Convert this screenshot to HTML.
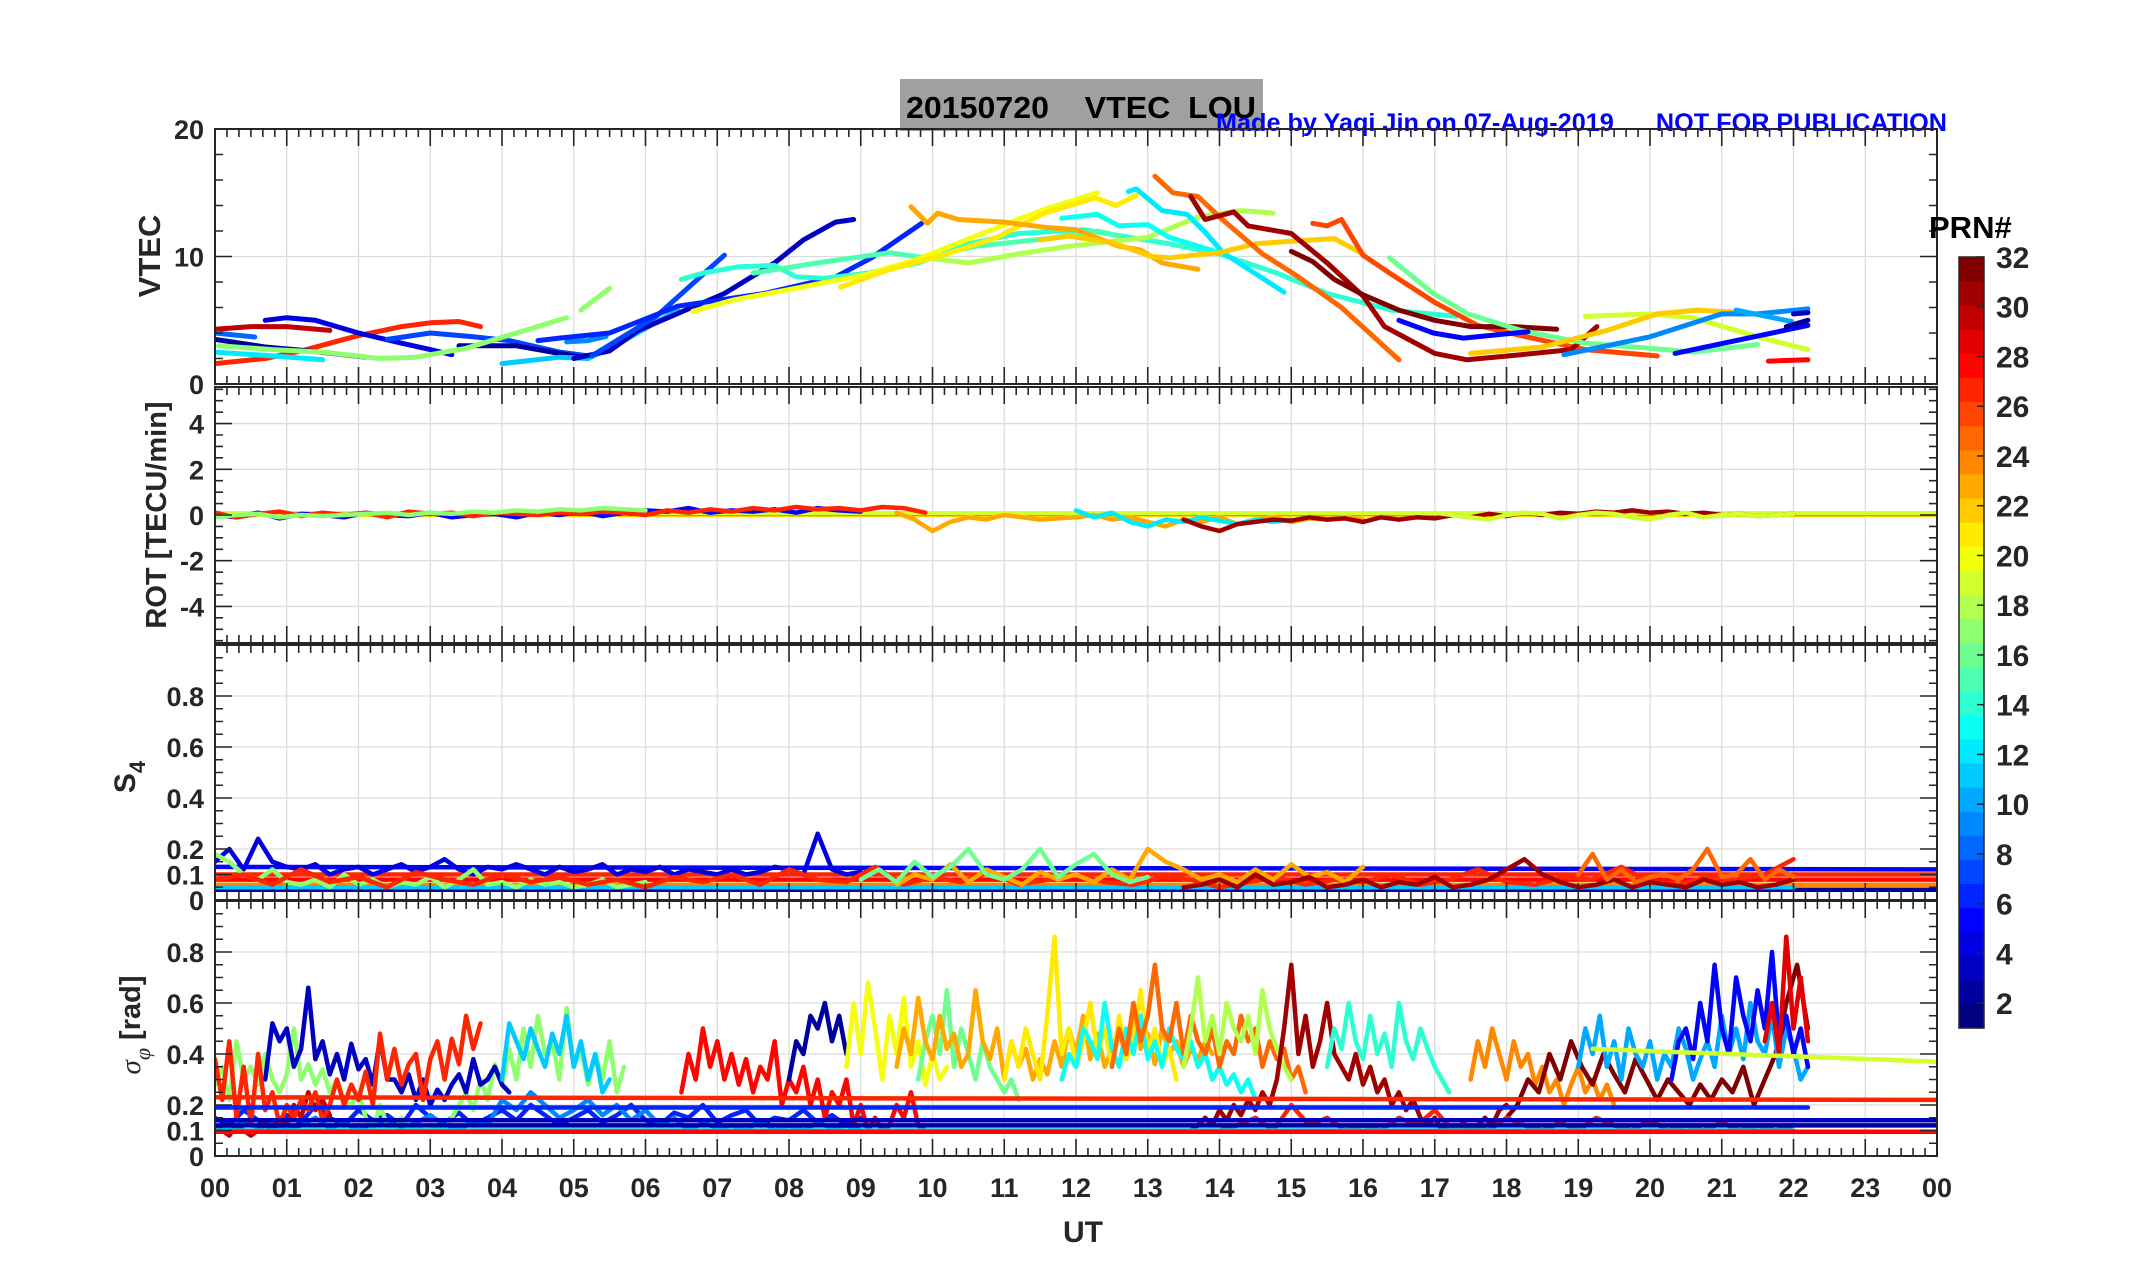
<!DOCTYPE html>
<html><head><meta charset="utf-8"><style>
html,body{margin:0;padding:0;background:#fff;}
svg{display:block;font-family:"Liberation Sans",Arial,sans-serif;}
.pre{white-space:pre;}
</style></head><body>
<svg id="chart" xmlns="http://www.w3.org/2000/svg" width="2153" height="1286" viewBox="0 0 2153 1286">
<rect x="0" y="0" width="2153" height="1286" fill="#fff"/>
<g id="title-box">
<rect x="900" y="79" width="363" height="52" fill="#a0a0a0"/>
<text class="pre" xml:space="preserve" x="906" y="118" font-size="31" font-weight="bold" fill="#000" textLength="350" lengthAdjust="spacingAndGlyphs">20150720    VTEC  LOU</text>
</g>
<text class="pre" xml:space="preserve" x="1216" y="131" font-size="25" font-weight="bold" fill="#0000ff" textLength="731" lengthAdjust="spacingAndGlyphs">Made by Yaqi Jin on 07-Aug-2019      NOT FOR PUBLICATION</text>
<g id="grid"></g>
<g id="series"></g>
<g id="axes"></g>
<g id="cbar"></g>
<text x="1929" y="238" font-size="31" font-weight="bold" fill="#000">PRN#</text>
<text transform="translate(160,256) rotate(-90)" text-anchor="middle" font-size="31" font-weight="bold" fill="#262626">VTEC</text>
<text transform="translate(166,515) rotate(-90)" text-anchor="middle" font-size="29" font-weight="bold" fill="#262626">ROT [TECU/min]</text>
<text transform="translate(135,777) rotate(-90)" text-anchor="middle" font-size="30" font-weight="bold" fill="#262626">S<tspan font-size="22" dy="10">4</tspan></text>
<text transform="translate(140,1025) rotate(-90)" text-anchor="middle" font-size="29" font-weight="bold" fill="#262626"><tspan font-family="Liberation Serif,serif" font-style="italic" font-weight="normal">σ</tspan><tspan font-family="Liberation Serif,serif" font-style="italic" font-weight="normal" font-size="22" dy="10">φ</tspan><tspan dy="-10"> [rad]</tspan></text>
<text x="1083" y="1242" text-anchor="middle" font-size="30" font-weight="bold" fill="#262626">UT</text>
</svg>
<script>
// ---------- data ----------
const hourTicks = ["00","01","02","03","04","05","06","07","08","09","10","11","12","13","14","15","16","17","18","19","20","21","22","23","00"];
const vtecTicks = [0,10,20];
const rotTicks = [-4,-2,0,2,4];
const s4Ticks = [0,0.1,0.2,0.4,0.6,0.8];
const phTicks = [0,0.1,0.2,0.4,0.6,0.8];
const cbarTicks = [2,4,6,8,10,12,14,16,18,20,22,24,26,28,30,32];

const vtecPrn = [30,27,4,8,7,2,2,17,17,12,11,9,3,7,6,14,15,18,13,12,20,21,23,22,25,26,31,32,16,19,22,9,10,5,5,3,2,28];
const vtecPts = [
 [[0,4.3],[0.5,4.5],[1.0,4.5],[1.6,4.2]],
 [[0,1.6],[0.7,2.0],[1.2,2.6],[2.0,3.8],[2.6,4.5],[3.0,4.8],[3.4,4.9],[3.7,4.5]],
 [[0.7,5.0],[1.0,5.2],[1.4,5.0],[2.0,4.0],[2.6,3.2],[3.0,2.7],[3.3,2.3]],
 [[0,4.0],[0.7,3.6]],
 [[2.4,3.5],[3.0,4.0],[3.6,3.7],[4.1,3.4],[4.8,2.5],[5.2,2.2]],
 [[0,3.5],[0.7,2.9],[1.3,2.6],[2.1,2.1]],
 [[3.4,3.0],[4.2,3.0],[4.8,2.4],[5.2,2.0]],
 [[0.05,3.0],[0.8,2.7],[1.5,2.5],[2.3,2.0],[2.8,2.1],[3.5,2.8],[4.2,4.0],[4.9,5.2]],
 [[5.1,5.8],[5.5,7.5]],
 [[0,2.5],[0.8,2.2],[1.5,1.9]],
 [[4.0,1.6],[4.8,2.1],[5.2,2.0],[5.7,3.4],[6.45,5.8]],
 [[4.9,3.3],[5.2,3.4],[5.5,3.8]],
 [[5.0,2.0],[5.5,2.6],[5.9,4.2],[7.1,7.1],[7.8,9.5],[8.2,11.3],[8.65,12.7],[8.9,12.9]],
 [[5.25,2.2],[6.15,5.3],[7.1,10.1]],
 [[4.5,3.4],[4.8,3.6],[5.5,4.0],[6.45,6.1],[7.65,7.1],[8.65,8.4],[9.15,9.9],[9.85,12.6]],
 [[6.5,8.2],[6.8,8.7],[7.3,9.2],[7.8,9.3],[8.1,8.4],[8.5,8.3],[9.1,8.7],[9.8,9.5],[10.5,11.0],[11.2,11.8],[12.1,12.1],[13.3,11.0],[14.0,10.2],[14.8,8.7],[15.5,7.1],[16.4,5.8],[17.3,5.3]],
 [[7.5,8.7],[8.4,9.5],[9.4,10.3],[9.9,9.9],[10.6,10.8],[11.6,11.4],[12.3,12.0],[12.6,11.6]],
 [[9.9,9.9],[10.5,9.5],[11.2,10.2],[11.9,10.8],[13.0,11.5],[13.7,13.1],[14.3,13.6],[14.75,13.4]],
 [[11.8,13.0],[12.3,13.3],[12.6,12.4],[13.0,12.5],[13.3,11.5],[14.0,10.3]],
 [[12.73,15.1],[12.84,15.3],[13.2,13.6],[13.55,13.3],[13.8,11.9],[14.05,10.3],[14.9,7.2]],
 [[6.66,5.7],[7.23,6.6],[8.0,7.4],[9.08,8.6],[9.8,9.8],[10.6,11.6],[11.56,13.7],[12.3,15.0]],
 [[8.72,7.6],[9.36,8.9],[10.2,10.2],[10.9,11.5],[11.56,13.4],[12.27,14.6],[12.56,14.0],[12.84,14.8]],
 [[9.7,13.9],[9.93,12.6],[10.07,13.4],[10.36,12.9],[11.0,12.7],[11.56,12.3],[12.0,12.1],[12.6,10.8],[12.9,10.5],[13.2,9.5],[13.7,9.0]],
 [[11.5,11.3],[11.9,11.6],[12.5,11.1],[13.05,10.0],[13.3,9.9],[14.0,10.3],[14.5,11.0],[15.0,11.2],[15.6,11.4],[16.0,10.2]],
 [[13.1,16.3],[13.35,15.0],[13.7,14.7],[14.0,13.1],[14.6,10.2],[15.1,8.4],[15.7,6.0],[16.5,1.9]],
 [[15.3,12.6],[15.5,12.4],[15.7,12.9],[16.0,10.1],[16.4,8.6],[17.0,6.4],[17.6,4.6],[18.2,3.8],[19.1,2.7],[20.1,2.2]],
 [[13.6,14.7],[13.8,12.9],[14.2,13.5],[14.4,12.4],[15.0,11.8],[15.5,9.5],[16.0,6.9],[16.3,4.5],[17.0,2.4],[17.45,1.9],[18.2,2.3],[18.9,2.7],[19.26,4.5]],
 [[15.0,10.4],[15.3,9.6],[15.6,8.2],[16.0,7.0],[16.5,5.8],[17.0,5.0],[17.5,4.5],[18.1,4.5],[18.7,4.3]],
 [[16.37,9.9],[16.98,7.1],[17.46,5.5],[18.2,4.2],[19.1,3.2],[20.0,2.8],[20.6,2.5],[21.5,3.1]],
 [[19.1,5.3],[20.0,5.5],[20.6,5.2],[21.5,3.7],[22.2,2.7]],
 [[17.5,2.4],[18.5,2.9],[19.4,4.2],[20.1,5.5],[20.65,5.8],[21.3,5.6]],
 [[18.8,2.3],[20.0,3.7],[21.0,5.5],[21.5,5.5],[22.2,5.9]],
 [[21.2,5.8],[21.97,4.9]],
 [[16.5,5.0],[16.98,4.0],[17.4,3.6],[18.3,4.1]],
 [[20.35,2.4],[21.2,3.4],[22.2,4.6]],
 [[22.0,5.5],[22.2,5.6]],
 [[21.9,4.5],[22.2,5.0]],
 [[21.65,1.8],[22.2,1.9]]
];
const vtecDash = [false,false,false,true,false,false,false,false,true,false,false,true,false,false,false,false,false,false,false,false,false,false,false,false,false,false,false,false,false,false,false,false,false,false,false,false,false,false];

const rotPrn = [5,27,17,23,12,31,19];
const rotStart = [0,0,0,9.5,12,13.5,17];
const rotStep = [0.3,0.3,0.3,0.25,0.25,0.25,0.25];
const rotVals = [
 [0,-0.1,0.1,-0.15,0.05,0,-0.1,0.1,0,-0.05,0.1,-0.1,0,0.05,-0.1,0.1,0,0.15,-0.05,0.1,0.2,0.15,0.3,0.1,0.2,0.15,0.25,0.1,0.3,0.2,0.15],
 [0.1,-0.1,0.05,0.15,-0.05,0.1,0,0.1,-0.1,0.15,0.05,0.1,-0.05,0.1,0.05,0,0.1,0.05,0.15,0.1,0,0.2,0.1,0.25,0.15,0.3,0.2,0.35,0.25,0.3,0.2,0.35,0.3,0.1],
 [-0.1,0,0.05,-0.1,0,-0.05,0,0.05,0.1,0,0.1,0.05,0.15,0.1,0.2,0.15,0.25,0.2,0.3,0.25,0.2],
 [0.1,-0.2,-0.7,-0.3,-0.1,-0.2,0,-0.1,-0.2,-0.15,-0.1,0,-0.2,-0.1,-0.3,-0.5,-0.2,-0.3,-0.1,-0.4,-0.2,-0.1,-0.3,-0.15,-0.2,-0.1,-0.2],
 [0.2,-0.1,0.1,-0.3,-0.5,-0.2,-0.3,-0.1,-0.25,-0.4,-0.2,-0.3,-0.2],
 [-0.2,-0.5,-0.7,-0.4,-0.3,-0.2,-0.25,-0.1,-0.2,-0.15,-0.3,-0.1,-0.2,-0.1,-0.15,0,-0.1,0.05,-0.05,0.1,0,0.1,0.05,0.15,0.1,0.2,0.1,0.15,0.05,0.1,0,0.05,-0.05,0,0.05],
 [0.1,0,-0.1,-0.2,0,0.1,0.05,-0.15,0,0.1,0.05,-0.1,-0.2,0,0.1,-0.1,0,0.05,-0.05,0,0.05]
];
const rotFlat = [[21,0,24,0,0],[27,0,24,0.05,0.05],[19,0,24,0.08,0.08]];

const s4Prn = [4,17,27,23,16,31,25];
const s4Start = [0,0,0,9.5,9,13.5,19];
const s4Step = [0.2,0.2,0.4,0.25,0.25,0.25,0.2];
const s4Vals = [
 [0.15,0.2,0.12,0.24,0.15,0.13,0.12,0.14,0.1,0.12,0.13,0.1,0.12,0.14,0.11,0.13,0.16,0.12,0.1,0.13,0.12,0.14,0.12,0.1,0.13,0.11,0.12,0.14,0.1,0.12,0.11,0.13,0.1,0.12,0.11,0.1,0.12,0.1,0.11,0.13,0.12,0.1,0.26,0.12,0.1,0.11],
 [0.18,0.15,0.1,0.08,0.12,0.07,0.06,0.08,0.05,0.1,0.06,0.08,0.05,0.07,0.06,0.09,0.05,0.08,0.12,0.06,0.07,0.05,0.08,0.06,0.07,0.05,0.06,0.08,0.05,0.06,0.07],
 [0.08,0.1,0.06,0.12,0.07,0.09,0.05,0.11,0.08,0.06,0.1,0.07,0.09,0.06,0.08,0.05,0.09,0.07,0.1,0.06,0.12,0.08,0.07,0.13,0.06,0.09,0.07,0.11,0.06,0.08,0.1,0.07,0.06,0.09,0.08,0.05,0.07,0.09,0.06,0.08,0.07,0.1,0.06,0.08,0.12,0.07,0.06,0.09,0.08,0.13,0.07,0.06,0.09,0.08,0.1,0.16],
 [0.06,0.1,0.08,0.14,0.07,0.12,0.09,0.06,0.11,0.08,0.1,0.07,0.12,0.08,0.2,0.15,0.12,0.08,0.1,0.07,0.12,0.08,0.14,0.09,0.11,0.07,0.13],
 [0.08,0.12,0.07,0.15,0.09,0.13,0.2,0.1,0.08,0.12,0.2,0.09,0.14,0.18,0.1,0.07,0.09],
 [0.05,0.06,0.08,0.05,0.1,0.06,0.07,0.09,0.05,0.06,0.08,0.05,0.07,0.06,0.09,0.05,0.06,0.08,0.12,0.16,0.1,0.07,0.05,0.06,0.08,0.05,0.07,0.06,0.05,0.08,0.06,0.07,0.05,0.06,0.08],
 [0.1,0.18,0.08,0.12,0.07,0.09,0.1,0.08,0.12,0.2,0.09,0.1,0.16,0.08,0.12,0.09]
];
const s4Flat = [[5,0,24,0.13,0.12],[2,0,24,0.04,0.04],[27,0,24,0.1,0.1],[28,0,24,0.08,0.08],[24,0,24,0.06,0.06],[11,0,22,0.05,0.05]];

const phPrn = [6,9,30,17,3,27,11,28,2,20,16,23,21,13,25,18,31,14,24,32,10,5,29,27];
const phStart = [0,0,0,0,0.7,0,4.0,6.5,8.0,8.8,9.8,9.5,11,11.8,12.5,13.5,13.6,15.5,17.5,18,19,20.3,21.6,14];
const phStep = [0.2,0.2,0.1,0.1,0.1,0.1,0.1,0.1,0.1,0.1,0.1,0.1,0.1,0.1,0.1,0.1,0.1,0.1,0.1,0.15,0.1,0.1,0.1,0.25];
const phVals = [
 [0.15,0.12,0.18,0.14,0.1,0.16,0.13,0.2,0.15,0.12,0.18,0.14,0.16,0.12,0.2,0.15,0.13,0.17,0.12,0.15,0.18,0.14,0.2,0.16,0.12,0.15,0.18,0.13,0.16,0.2,0.14,0.12,0.17,0.15,0.2,0.13,0.16,0.18,0.12,0.15,0.14,0.18,0.13,0.16,0.12,0.15],
 [0.12,0.1,0.14,0.11,0.13,0.1,0.12,0.15,0.11,0.13,0.1,0.12,0.14,0.1,0.13,0.16,0.12,0.1,0.14,0.12,0.22,0.18,0.25,0.2,0.15,0.18,0.22,0.16,0.2,0.14,0.18,0.12,0.15,0.1,0.13,0.11,0.12,0.1,0.14,0.1,0.12,0.1,0.13,0.11,0.12,0.1],
 [0.12,0.1,0.08,0.12,0.1,0.08,0.1,0.13,0.1,0.15,0.12,0.2,0.15,0.25,0.18,0.22,0.16],
 [0.28,0.35,0.22,0.45,0.3,0.35,0.28,0.4,0.3,0.25,0.32,0.5,0.3,0.36,0.28,0.34,0.25,0.3,0.22,0.2,0.25,0.15,0.1,0.2,0.12,0.1,0.15,0.1,0.12,0.1,0.1,0.12,0.1,0.15,0.2,0.25,0.18,0.3,0.22,0.36,0.28,0.42,0.3,0.5,0.35,0.55,0.4,0.45,0.3,0.58,0.35,0.42,0.28,0.4,0.3,0.45,0.25,0.35],
 [0.3,0.52,0.45,0.5,0.35,0.42,0.66,0.38,0.45,0.32,0.4,0.3,0.44,0.34,0.38,0.28,0.46,0.3,0.3,0.25,0.32,0.22,0.3,0.2,0.26,0.22,0.28,0.32,0.25,0.38,0.28,0.3,0.35,0.28,0.25],
 [0.38,0.22,0.45,0.15,0.35,0.12,0.4,0.18,0.25,0.12,0.2,0.15,0.22,0.18,0.25,0.14,0.2,0.3,0.2,0.28,0.22,0.33,0.2,0.48,0.3,0.42,0.28,0.36,0.4,0.22,0.38,0.45,0.3,0.46,0.36,0.55,0.42,0.52],
 [0.3,0.52,0.45,0.38,0.5,0.42,0.35,0.48,0.4,0.55,0.35,0.45,0.3,0.4,0.25,0.3],
 [0.25,0.4,0.3,0.5,0.35,0.45,0.3,0.4,0.28,0.38,0.25,0.35,0.3,0.45,0.2,0.3,0.25,0.35,0.2,0.3,0.15,0.25,0.2,0.3,0.12,0.2,0.1,0.15,0.1,0.12,0.2,0.15,0.25,0.12,0.1],
 [0.3,0.45,0.4,0.55,0.5,0.6,0.45,0.55,0.4],
 [0.35,0.6,0.4,0.68,0.5,0.3,0.55,0.4,0.62,0.35,0.45,0.28,0.4,0.3,0.35],
 [0.3,0.45,0.55,0.4,0.65,0.35,0.5,0.4,0.3,0.45,0.35,0.3,0.25,0.3,0.22],
 [0.35,0.5,0.4,0.62,0.45,0.38,0.55,0.42,0.48,0.35,0.4,0.65,0.45,0.38,0.5,0.3,0.45,0.35,0.42,0.3,0.38,0.32,0.45,0.35,0.5,0.4,0.55,0.38,0.48,0.35,0.42,0.5,0.38,0.58,0.42,0.48,0.36,0.5,0.4,0.45,0.35,0.42,0.38,0.45,0.4],
 [0.3,0.45,0.35,0.5,0.4,0.3,0.55,0.86,0.4,0.5,0.35,0.45,0.6,0.4,0.5,0.35,0.55,0.38,0.45,0.65,0.4,0.5,0.35,0.42,0.3],
 [0.3,0.4,0.35,0.5,0.45,0.38,0.6,0.42,0.35,0.5,0.4,0.55,0.38,0.45,0.35,0.5,0.42,0.38,0.45,0.35,0.4,0.3,0.35,0.28,0.32,0.25,0.3,0.22],
 [0.35,0.5,0.4,0.6,0.45,0.55,0.75,0.5,0.45,0.6,0.4,0.55,0.45,0.4,0.5,0.35,0.45,0.4,0.55,0.45,0.5,0.35,0.45,0.38,0.42,0.3,0.35,0.25],
 [0.35,0.5,0.7,0.45,0.55,0.4,0.6,0.5,0.45,0.55,0.4,0.65,0.5,0.42,0.35,0.3],
 [0.1,0.12,0.15,0.12,0.18,0.14,0.2,0.16,0.22,0.18,0.25,0.2,0.3,0.5,0.75,0.4,0.55,0.35,0.45,0.6,0.4,0.35,0.3,0.4,0.28,0.35,0.25,0.3,0.2,0.25,0.18,0.22,0.15,0.12,0.15,0.1,0.12,0.1,0.13,0.1,0.12,0.15,0.12,0.18,0.2],
 [0.35,0.5,0.42,0.6,0.45,0.38,0.55,0.4,0.48,0.35,0.6,0.45,0.38,0.5,0.42,0.35,0.3,0.25],
 [0.3,0.45,0.35,0.5,0.4,0.3,0.45,0.35,0.4,0.28,0.35,0.25,0.3,0.2,0.28,0.35,0.25,0.3,0.22,0.28,0.2],
 [0.15,0.2,0.3,0.25,0.4,0.3,0.45,0.35,0.28,0.4,0.32,0.25,0.38,0.3,0.22,0.3,0.25,0.2,0.28,0.22,0.3,0.25,0.35,0.2,0.3,0.4,0.6,0.75,0.5],
 [0.35,0.5,0.4,0.55,0.35,0.45,0.3,0.5,0.4,0.35,0.45,0.3,0.4,0.35,0.5,0.42,0.3,0.38,0.45,0.35,0.55,0.4,0.5,0.38,0.6,0.45,0.4,0.55,0.35,0.5,0.42,0.3,0.35],
 [0.3,0.45,0.5,0.38,0.6,0.45,0.75,0.5,0.4,0.7,0.55,0.45,0.65,0.5,0.8,0.45,0.55,0.4,0.5,0.35],
 [0.45,0.6,0.4,0.86,0.5,0.7,0.45],
 [0.1,0.12,0.15,0.1,0.2,0.12,0.15,0.1,0.12,0.1,0.15,0.12,0.18,0.1,0.12,0.1,0.15,0.12,0.1,0.13,0.1,0.15,0.12,0.1,0.14,0.1,0.12,0.1,0.13,0.1,0.12,0.1,0.12]
];
const phFlat = [[6,0,22.2,0.19,0.19],[2,0,24,0.12,0.12],[3,0,24,0.14,0.14],[11,0,22,0.1,0.1],[28,0,24,0.095,0.095],[27,0,24,0.23,0.22],[19,19.2,24,0.42,0.37]];

// ---------- layout ----------
const NS = "http://www.w3.org/2000/svg";
const L = 215, R = 1937;
const panels = [
 {name:"vtec", top:129, bot:384, min:0, max:20, ticks:vtecTicks, minor:2, grid:[10]},
 {name:"rot", top:387, bot:643, min:-5.6, max:5.6, ticks:rotTicks, minor:0.5, grid:rotTicks},
 {name:"s4", top:645, bot:900, min:0, max:1, ticks:s4Ticks, minor:0.05, grid:[0.1,0.2,0.4,0.6,0.8]},
 {name:"phase", top:901, bot:1156, min:0, max:1, ticks:phTicks, minor:0.05, grid:[0.1,0.2,0.4,0.6,0.8]}
];
function xs(h){ return L + h*(R-L)/24; }
function ys(p,v){ return p.bot - (v-p.min)/(p.max-p.min)*(p.bot-p.top); }
function jet(prn){
  const t=(prn-1)/31;
  const c=x=>Math.round(255*Math.max(0,Math.min(1,x)));
  return "rgb("+c(1.5-Math.abs(4*t-3))+","+c(1.5-Math.abs(4*t-2))+","+c(1.5-Math.abs(4*t-1))+")";
}
function mk(tag, attrs, parent){
  const e=document.createElementNS(NS,tag);
  for(const k in attrs) e.setAttribute(k,attrs[k]);
  parent.appendChild(e); return e;
}
const gGrid=document.getElementById("grid"), gSer=document.getElementById("series"), gAx=document.getElementById("axes"), gCb=document.getElementById("cbar");
const defs=mk("defs",{},document.getElementById("chart"));
panels.forEach((p,i)=>{
  const cp=mk("clipPath",{id:"clip"+i},defs);
  mk("rect",{x:L,y:p.top,width:R-L,height:p.bot-p.top},cp);
  for(let h=1;h<24;h++){
    const gl=mk("line",{x1:xs(h),x2:xs(h),y1:p.top,y2:p.bot,stroke:"#dcdcdc","stroke-width":1.3},gGrid);
    
    
  }
  p.grid.forEach(v=>{
    const gl=mk("line",{x1:L,x2:R,y1:ys(p,v),y2:ys(p,v),stroke:"#dcdcdc","stroke-width":1.3},gGrid);
    
    
  });
  const box=mk("rect",{x:L,y:p.top,width:R-L,height:p.bot-p.top,fill:"none",stroke:"#262626","stroke-width":2},gAx);
  
  
  let d="";
  for(let m=0;m<=144;m++){
    const x=xs(m/6), len=(m%6===0)?17:8;
    d+="M"+x+" "+p.top+"v"+len+"M"+x+" "+p.bot+"v"+(-len);
  }
  for(let v=p.min; v<=p.max+1e-9; v+=p.minor){
    const vv=Math.round(v/p.minor)*p.minor;
    if(vv<p.min-1e-9||vv>p.max+1e-9) continue;
    const y=ys(p,vv), isMaj=p.ticks.some(t=>Math.abs(t-vv)<1e-6), len=isMaj?17:8;
    d+="M"+L+" "+y+"h"+len+"M"+R+" "+y+"h"+(-len);
  }
  const tk=mk("path",{d:d,stroke:"#262626","stroke-width":1.6,fill:"none"},gAx);
  
  
  p.ticks.forEach(v=>{
    const t=mk("text",{x:204,y:ys(p,v)+10,"text-anchor":"end","font-size":27,"font-weight":"bold",fill:"#262626"},gAx);
    t.textContent=String(v);
    
    
  });
  p.g=mk("g",{"clip-path":"url(#clip"+i+")"},gSer);
  
  
});
hourTicks.forEach((lab,i)=>{
  const t=mk("text",{x:xs(i),y:1197,"text-anchor":"middle","font-size":27,"font-weight":"bold",fill:"#262626"},gAx);
  t.textContent=lab;
  
  
});
function poly(p,pts,prn,w,dash,name){
  const d=pts.map((q,k)=>(k?"L":"M")+xs(q[0]).toFixed(1)+" "+ys(p,q[1]).toFixed(1)).join("");
  const a={d:d,stroke:jet(prn),"stroke-width":w,fill:"none","stroke-linejoin":"round","stroke-linecap":"round"};
  if(dash) a["stroke-dasharray"]="40 14";
  const e=mk("path",a,p.g);
  
  
}
function fromStep(start,step,vals){ return vals.map((v,k)=>[start+k*step,v]); }
vtecPts.forEach((pts,i)=>poly(panels[0],pts,vtecPrn[i],5,vtecDash[i],"vtec-line-prn"+vtecPrn[i]));
rotFlat.forEach(f=>poly(panels[1],[[f[1],f[3]],[f[2],f[4]]],f[0],4.5,false,"rot-flat-prn"+f[0]));
rotVals.forEach((v,i)=>poly(panels[1],fromStep(rotStart[i],rotStep[i],v),rotPrn[i],4.5,false,"rot-line-prn"+rotPrn[i]));
s4Flat.forEach(f=>poly(panels[2],[[f[1],f[3]],[f[2],f[4]]],f[0],4.5,false,"s4-flat-prn"+f[0]));
s4Vals.forEach((v,i)=>poly(panels[2],fromStep(s4Start[i],s4Step[i],v),s4Prn[i],4.5,false,"s4-line-prn"+s4Prn[i]));
phVals.forEach((v,i)=>poly(panels[3],fromStep(phStart[i],phStep[i],v),phPrn[i],4.5,false,"phase-line-prn"+phPrn[i]));
phFlat.forEach(f=>poly(panels[3],[[f[1],f[3]],[f[2],f[4]]],f[0],4.5,false,"phase-flat-prn"+f[0]));
const cbTop=257, cbBot=1028, cbX=1959, cbW=25;
const cbG=mk("g",{},gCb);


for(let k=0;k<32;k++){
  const h=(cbBot-cbTop)/32;
  const r=mk("rect",{x:cbX,y:cbBot-(k+1)*h,width:cbW,height:h+0.6,fill:jet(1+k)},cbG);
  
  
}
mk("rect",{x:cbX,y:cbTop,width:cbW,height:cbBot-cbTop,fill:"none",stroke:"#262626","stroke-width":1.5},cbG);
cbarTicks.forEach(v=>{
  const y=cbBot-(v-1)/31*(cbBot-cbTop);
  mk("line",{x1:cbX+cbW-7,x2:cbX+cbW,y1:y,y2:y,stroke:"#262626","stroke-width":1.5},cbG);
  const t=mk("text",{x:1996,y:y+11,"font-size":30,"font-weight":"bold",fill:"#262626"},cbG);
  t.textContent=String(v);
  
  
});
</script>
</body></html>
